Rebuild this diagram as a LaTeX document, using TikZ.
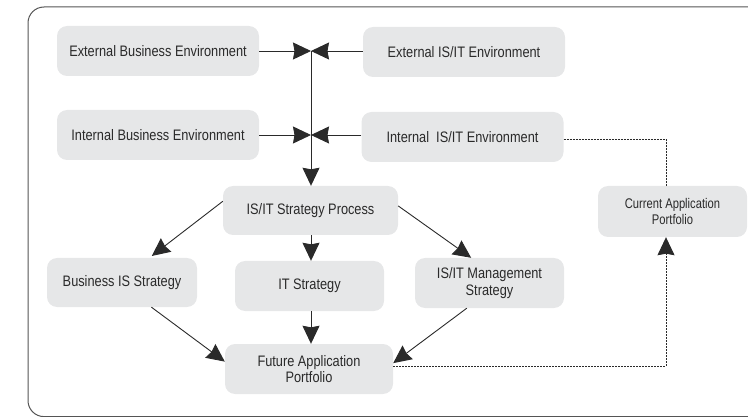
\documentclass[tikz,border=0pt]{standalone}
\usepackage{fontspec}
\setmainfont{Liberation Sans}[FakeStretch=0.84]
\newfontfamily\narrowfont{Liberation Sans}[FakeStretch=0.80]
\usetikzlibrary{arrows.meta,calc}
\definecolor{boxgray}{HTML}{E6E7E8}
\definecolor{ink}{HTML}{2A2A2A}
\definecolor{framegray}{HTML}{555555}
\begin{document}
\begin{tikzpicture}[x=1pt,y=-1pt,
  box/.style={fill=boxgray, rounded corners=10pt, inner sep=0pt, align=center,
    text=ink, font=\fontsize{15.2}{16.5}\selectfont},
  flow/.style={draw=ink, line width=0.9pt,
    -{Stealth[length=18pt,width=17pt,inset=1.5pt]}},
  link/.style={draw=ink, line width=0.9pt, dash pattern=on 2pt off 1pt},
  linkarrow/.style={link, -{Stealth[length=18pt,width=17pt,inset=1.5pt]}}
]
\useasboundingbox (0,0) rectangle (748,417);
% frame
\draw[framegray, line width=1pt, rounded corners=16pt]
  (760,7) -- (28,7) -- (28,416.6) -- (760,416.6);
% boxes
\node[box, minimum width=202pt, minimum height=50pt] (ebe) at (158,51) {External Business Environment};
\node[box, minimum width=202pt, minimum height=50pt] (ibe) at (158,135) {Internal Business Environment};
\node[box, minimum width=202pt, minimum height=50pt] (eit) at (464,52) {External IS/IT Environment};
\node[box, minimum width=202pt, minimum height=50pt] (iit) at (462.5,137) {Internal\ \ IS/IT Environment};
\node[box, minimum width=175pt, minimum height=49pt] (sp) at (310.5,210.5) {IS/IT Strategy Process};
\node[box, minimum width=150pt, minimum height=49pt] (bis) at (122,282.5) {Business IS Strategy};
\node[box, minimum width=149pt, minimum height=50pt] (its) at (309.5,286) {IT Strategy};
\node[box, minimum width=149pt, minimum height=50pt] (mgmt) at (489.5,283) {IS/IT Management\\Strategy};
\node[box, minimum width=168pt, minimum height=50pt] (fap) at (309,369) {Future Application\\Portfolio};
\node[box, minimum width=149pt, minimum height=51pt, font=\narrowfont\fontsize{14}{16}\selectfont] (cap) at (672.5,211.5) {Current Application\\Portfolio};
% junctions
\coordinate (j1) at (311,51);
\coordinate (j2) at (311,135);
% environment arrows
\draw[flow] (ebe.east) -- (j1);
\draw[flow] (eit.west |- j1) -- (j1);
\draw[flow] (ibe.east) -- (j2);
\draw[flow] (iit.west |- j2) -- (j2);
\draw[flow] (j1) -- (sp.north -| j1);
% strategy arrows
\draw[flow, shorten >=3pt] (sp.174) -- (bis.42);
\draw[flow] (sp.south -| j1) -- (its.north -| j1);
\draw[flow] (sp.3) -- (mgmt.126);
\draw[flow] (bis.-40) -- (fap.175);
\draw[flow] (its.south -| j1) -- (fap.north -| j1);
\draw[flow] (mgmt.228) -- (fap.4);
% dotted links
\coordinate (cb) at ([xshift=-6.5pt]cap.south);
\coordinate (ct) at ([xshift=-6.5pt]cap.north);
\draw[linkarrow] ([yshift=3pt]fap.east) -| (cb);
\draw[link] ([yshift=-2pt]iit.east) -| (ct);
\end{tikzpicture}
\end{document}
